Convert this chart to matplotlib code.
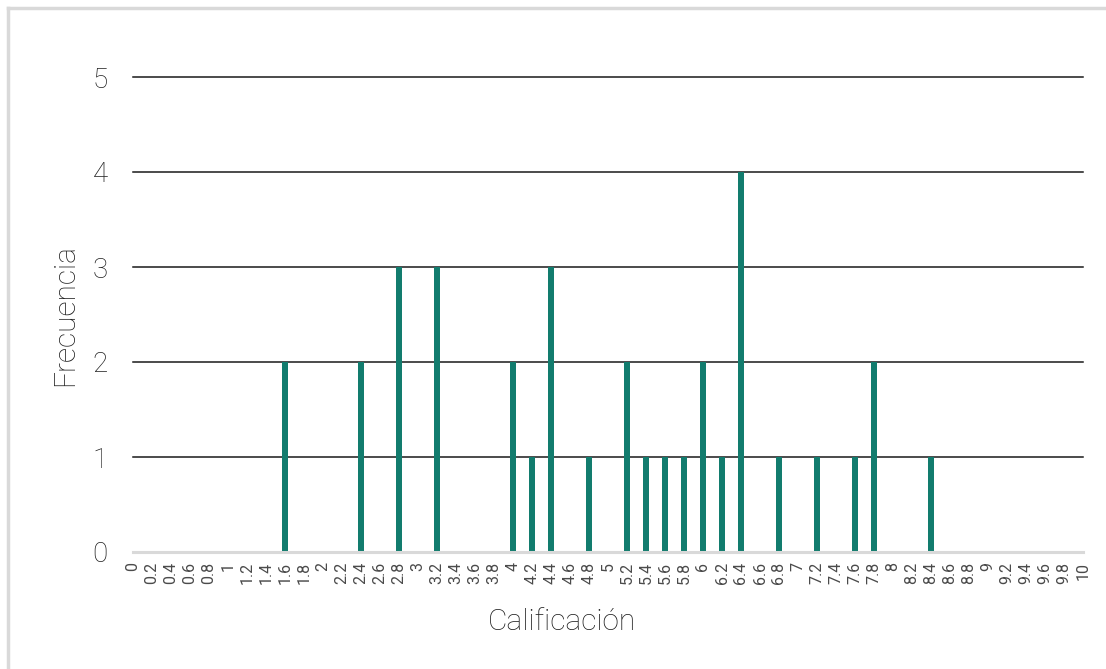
import matplotlib
matplotlib.use('Agg')
import matplotlib.pyplot as plt
import numpy as np

plt.rcParams['font.family'] = ['Roboto', 'DejaVu Sans']

# calificaciones de 0 a 10 con paso 0.2
calificaciones = [round(0.2 * i, 1) for i in range(51)]
etiquetas = ['{:g}'.format(c) for c in calificaciones]
frecuencia_por_nota = {1.6: 2, 2.4: 2, 2.8: 3, 3.2: 3, 4.0: 2, 4.2: 1, 4.4: 3,
                       4.8: 1, 5.2: 2, 5.4: 1, 5.6: 1, 5.8: 1, 6.0: 2, 6.2: 1,
                       6.4: 4, 6.8: 1, 7.2: 1, 7.6: 1, 7.8: 2, 8.4: 1}
frecuencia = [frecuencia_por_nota.get(c, 0) for c in calificaciones]
yticks = [0, 1, 2, 3, 4, 5]

W, H = 1106, 669
fig = plt.figure(figsize=(W / 100, H / 100), dpi=100)
ax = fig.add_axes([133 / W, 1 - 552 / H, (1083 - 133) / W, (552 - 77) / H])

color_barra = '#127C6E'
color_texto = '#1f1f1f'

ax.bar(calificaciones, frecuencia, width=0.064, color=color_barra, zorder=3)

for y in yticks[1:]:
    ax.axhline(y, color='#1a1a1a', lw=1.1, zorder=2, clip_on=False)
ax.axhline(0, color='#d9d9d9', lw=2.2, zorder=4, clip_on=False)

ax.set_xlim(0, 10)
ax.set_ylim(0, 5)
for s in ax.spines.values():
    s.set_visible(False)

ax.set_xticks(calificaciones)
ax.set_xticklabels(etiquetas, rotation=90, fontsize=11.5, color='#4a4a4a')
ax.set_yticks(yticks)
ax.set_yticklabels([str(v) for v in yticks], fontsize=20, color=color_texto, fontweight='light')
ax.tick_params(axis='both', length=0)
ax.tick_params(axis='x', pad=7)
ax.tick_params(axis='y', pad=18)

ax.set_xlabel('Calificación', fontsize=21.5, color=color_texto, fontweight='light')
ax.xaxis.set_label_coords(0.452, -0.118)
ax.set_ylabel('Frecuencia', fontsize=21.5, color=color_texto, labelpad=10, fontweight='light')

# borde gris arriba y a la izquierda
fig.add_artist(plt.Line2D([8 / W, 8 / W], [0, 1 - 8 / H], color='#d9d9d9', lw=2.5))
fig.add_artist(plt.Line2D([8 / W, 1], [1 - 8 / H, 1 - 8 / H], color='#d9d9d9', lw=2.5))

fig.savefig('out.png', dpi=100, facecolor='white')
